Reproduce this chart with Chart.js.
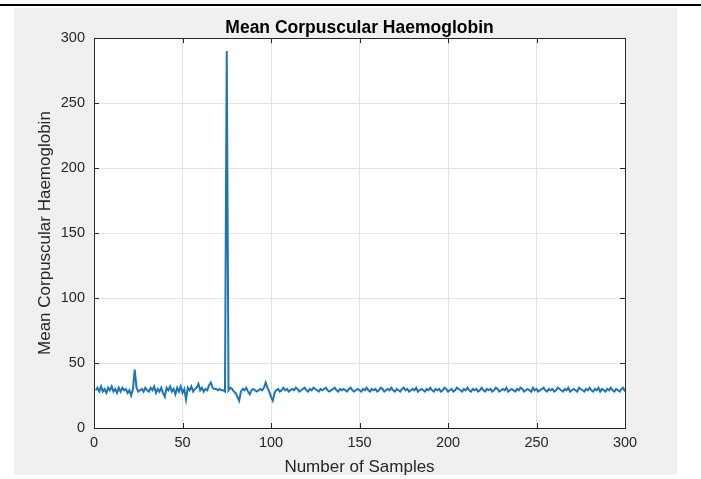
<!DOCTYPE html>
<html><head><meta charset="utf-8">
<script src="https://cdn.jsdelivr.net/npm/chart.js@4/dist/chart.umd.min.js"></script>
<style>html,body{margin:0;padding:0;background:#fff;}#wrap{position:relative;width:701px;height:479px;}</style>
</head><body><div id="wrap"><canvas id="c" width="701" height="479"></canvas></div>
<script>
const chartTitle = 'Mean Corpuscular Haemoglobin';
const xAxisLabel = 'Number of Samples';
const yAxisLabel = 'Mean Corpuscular Haemoglobin';
const xTickValues = [0, 50, 100, 150, 200, 250, 300];
const yTickValues = [0, 50, 100, 150, 200, 250, 300];

const mchValues = [
  29,31,28,32,28,30,27,31,29,32,
  28,30,27,31,28,31,29,30,27,29,
  25,30,45,31,28,29,30,28,31,29,
  28,31,29,32,27,30,28,31,27,24,
  31,29,32,28,30,26,31,28,32,27,
  30,22,31,29,32,28,30,31,34,29,
  31,28,30,29,33,35,31,30,30,29,
  30,29,29,28,290,29,31,30,28,27,
  24,21,28,30,29,31,28,26,29,30,
  29,28,29,30,29,31,35,31,28,24,
  21,27,29,30,28,29,31,29,30,28,
  29,30,29,31,30,28,29,30,31,29,
  28,30,29,31,30,29,28,30,29,30,
  31,29,28,29,30,31,29,28,30,29,
  30,29,28,30,31,29,28,29,30,29,
  28,30,29,31,29,28,30,29,30,28,
  29,31,30,28,29,30,29,31,29,28,
  30,29,28,30,31,29,30,28,29,30,
  29,31,28,29,30,29,28,30,29,31,
  29,28,30,29,30,28,29,31,30,28,
  29,30,28,29,31,30,29,28,30,29,
  31,29,28,30,29,30,28,29,31,29,
  28,30,29,30,28,29,31,30,28,29,
  30,29,31,28,29,30,29,28,30,29,
  31,30,28,29,30,29,28,31,29,30,
  28,29,30,31,29,28,30,29,30,28,
  29,31,30,29,28,30,29,31,28,29,
  30,29,28,31,30,29,28,30,29,31,
  29,28,30,29,31,28,30,29,28,30,
  29,31,29,28,30,29,28,30,31,28
];
const sampleNumbers = mchValues.map((_, i) => i + 1);

const TEXT = '#262626';
const FONT = "'Liberation Sans', Arial, sans-serif";

const framePlugin = {
  id: 'frame',
  beforeDraw(chart) {
    const ctx = chart.ctx, a = chart.chartArea;
    ctx.save();
    ctx.fillStyle = '#ffffff';
    ctx.fillRect(0, 0, chart.width, chart.height);
    ctx.fillStyle = '#f0f0f0';
    ctx.fillRect(14, 8, 663, 467);
    ctx.fillStyle = '#000000';
    ctx.fillRect(0, 4, chart.width, 2);
    ctx.fillStyle = '#ffffff';
    ctx.fillRect(a.left, a.top, a.right - a.left, a.bottom - a.top);
    ctx.restore();
  },
  afterLayout(chart) {
    const t = chart.titleBlock, a = chart.chartArea;
    if (t) { t.left = a.left; t.right = a.right; t.width = a.right - a.left; }
  },
  afterDatasetsDraw(chart) {
    const ctx = chart.ctx, a = chart.chartArea;
    const xs = chart.scales.x, ys = chart.scales.y;
    ctx.save();
    ctx.strokeStyle = TEXT;
    ctx.lineWidth = 1;
    ctx.beginPath();
    xTickValues.forEach(v => {
      const px = Math.round(xs.getPixelForValue(v)) + 0.5;
      ctx.moveTo(px, a.bottom); ctx.lineTo(px, a.bottom - 5);
      ctx.moveTo(px, a.top); ctx.lineTo(px, a.top + 5);
    });
    yTickValues.forEach(v => {
      const py = Math.round(ys.getPixelForValue(v)) + 0.5;
      ctx.moveTo(a.left, py); ctx.lineTo(a.left + 5, py);
      ctx.moveTo(a.right, py); ctx.lineTo(a.right - 5, py);
    });
    ctx.stroke();
    ctx.strokeRect(Math.round(a.left) + 0.5, Math.round(a.top) + 0.5,
      Math.round(a.right - a.left), Math.round(a.bottom - a.top));
    ctx.restore();
  }
};

new Chart(document.getElementById('c'), {
  type: 'line',
  data: {
    datasets: [{
      data: sampleNumbers.map((x, i) => ({ x: x, y: mchValues[i] })),
      borderColor: '#1a75bb',
      borderWidth: 2,
      pointRadius: 0,
      tension: 0,
      fill: false
    }]
  },
  options: {
    responsive: false,
    animation: false,
    devicePixelRatio: 1,
    layout: { padding: { left: 14, top: 8, right: 76, bottom: 1 } },
    plugins: {
      legend: { display: false },
      tooltip: { enabled: false },
      title: {
        display: true,
        text: chartTitle,
        color: '#000',
        font: { family: FONT, size: 17.5, weight: 'bold', lineHeight: 1.15 },
        padding: { top: 10, bottom: 0 }
      }
    },
    scales: {
      x: {
        type: 'linear',
        min: 0, max: 300,
        afterFit(s) { s.height = 50; },
        afterBuildTicks(s) { s.ticks = xTickValues.map(v => ({ value: v })); },
        ticks: { color: TEXT, font: { family: FONT, size: 14.5 }, padding: 6, maxRotation: 0 },
        grid: { color: '#e3e3e3', drawTicks: false },
        border: { display: false },
        title: { display: true, text: xAxisLabel, color: TEXT, font: { family: FONT, size: 17 }, padding: { top: 0, bottom: 0 } }
      },
      y: {
        type: 'linear',
        min: 0, max: 300,
        afterFit(s) { s.width = 80; },
        afterBuildTicks(s) { s.ticks = yTickValues.map(v => ({ value: v })); },
        ticks: { color: TEXT, font: { family: FONT, size: 14.5 }, padding: 9 },
        grid: { color: '#e3e3e3', drawTicks: false },
        border: { display: false },
        title: { display: true, text: yAxisLabel, color: TEXT, font: { family: FONT, size: 17 }, padding: { top: 21, bottom: 0 } }
      }
    }
  },
  plugins: [framePlugin]
});
</script>
</body></html>
